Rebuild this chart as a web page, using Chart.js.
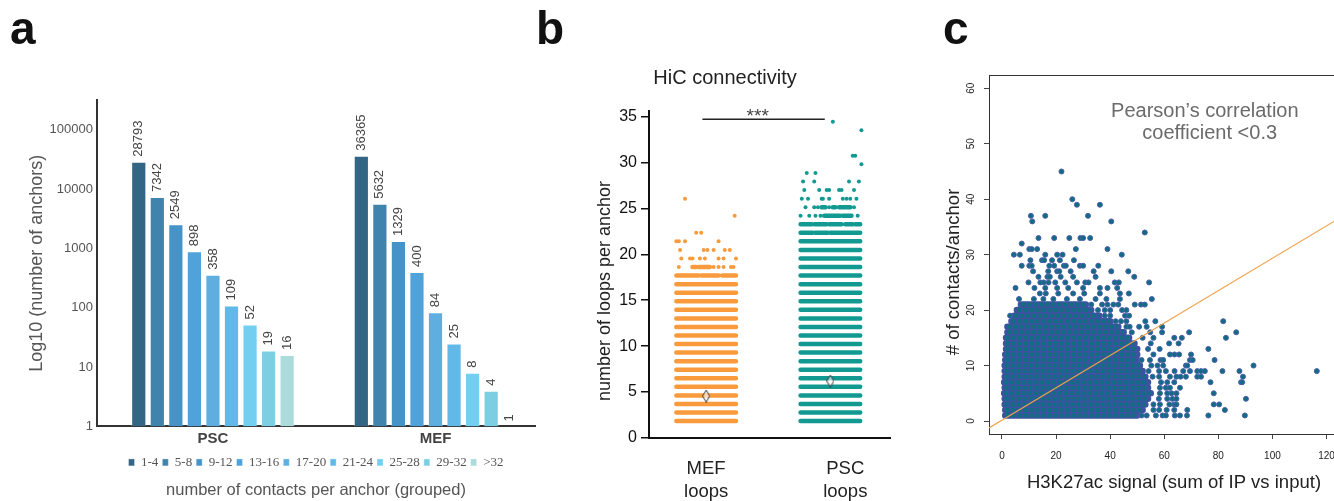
<!DOCTYPE html>
<html>
<head>
<meta charset="utf-8">
<script src="https://cdn.jsdelivr.net/npm/chart.js@4.4.1/dist/chart.umd.min.js"></script>
<style>
  html, body { margin: 0; padding: 0; background: #fff; overflow: hidden; }
  body { width: 1334px; height: 501px; position: relative; }
  canvas { position: absolute; top: 0; }
  .tag { position: absolute; font: bold 46px 'Liberation Sans', Arial, sans-serif; line-height: 46px; color: #111; }
</style>
</head>
<body>
<canvas id="chartA" width="632" height="501" style="left:0"></canvas>
<canvas id="chartB" width="370" height="501" style="left:560px"></canvas>
<canvas id="chartC" width="460" height="501" style="left:930px"></canvas>
<div class="tag" style="left:10px;top:5px">a</div>
<div class="tag" style="left:536px;top:5px">b</div>
<div class="tag" style="left:943px;top:5px">c</div>
<script>
// ---- panel a: anchors per contact bin ----
const groups = ['PSC', 'MEF'];
const binLabels = ['1-4', '5-8', '9-12', '13-16', '17-20', '21-24', '25-28', '29-32', '>32'];
const pscCounts = [28793, 7342, 2549, 898, 358, 109, 52, 19, 16];
const mefCounts = [36365, 5632, 1329, 400, 84, 25, 8, 4, 1];
const logTicks = [1, 10, 100, 1000, 10000, 100000];
const binColors = ['#336684', '#4083ad', '#4693c8', '#4fa3da', '#5eafe0', '#62b9e8', '#72cff2', '#7ccfe3', '#abdcdb'];

// ---- panel b: loops per anchor (rows of stacked dots) ----
const loopCats = [['MEF', 'loops'], ['PSC', 'loops']];
const loopTicks = [0, 5, 10, 15, 20, 25, 30, 35];
const mefBands = [1.84, 2.77, 3.70, 4.63, 5.57, 6.50, 7.43, 8.36, 9.30, 10.23, 11.16, 12.09, 13.02, 13.95, 14.89, 15.82, 16.75];
const pscBands = [1.84, 2.77, 3.70, 4.63, 5.57, 6.50, 7.43, 8.36, 9.30, 10.23, 11.16, 12.09, 13.02, 13.95, 14.89, 15.82, 16.75, 17.68, 18.61, 19.54, 20.47, 21.41];
// [row, from, to]
const mefSegs = [[17.68, 0.76, 0.94], [17.68, 0.96, 1.10], [17.68, 1.13, 1.24], [18.61, 0.89, 0.92], [18.61, 0.94, 1.03]];
const pscSegs = [[22.34, 1.76, 1.86], [22.34, 1.88, 1.98], [22.34, 2.00, 2.24],
  [23.27, 1.76, 1.85], [23.27, 1.87, 1.97], [23.27, 1.99, 2.09], [23.27, 2.12, 2.18], [23.27, 2.20, 2.24],
  [24.2, 1.95, 2.08], [24.2, 2.10, 2.17], [25.13, 1.93, 1.96], [25.13, 2.02, 2.04], [25.13, 2.07, 2.16]];
const mefDots = [[0.78, 18.61], [1.06, 18.61], [1.10, 18.61], [1.14, 18.61], [1.20, 18.61], [1.22, 18.61],
  [0.80, 19.54], [0.87, 19.54], [0.89, 19.54], [0.95, 19.54], [0.99, 19.54], [1.10, 19.54], [1.14, 19.54], [1.24, 19.54],
  [0.79, 20.47], [0.98, 20.47], [1.01, 20.47], [1.06, 20.47], [1.15, 20.47], [1.19, 20.47],
  [0.76, 21.41], [0.78, 21.41], [0.83, 21.41], [1.10, 21.41], [0.92, 22.34], [0.96, 22.34], [1.23, 24.2], [0.83, 26.06]];
const pscDots = [[1.76, 24.2], [1.83, 24.2], [1.88, 24.2], [1.92, 24.2], [2.22, 24.2],
  [1.80, 25.13], [1.87, 25.13], [1.90, 25.13], [1.99, 25.13], [2.19, 25.13],
  [1.77, 26.06], [1.82, 26.06], [1.93, 26.06], [1.94, 26.06], [1.99, 26.06], [2.10, 26.06], [2.13, 26.06], [2.16, 26.06], [2.21, 26.06],
  [1.79, 26.99], [1.91, 26.99], [1.97, 26.99], [1.99, 26.99], [2.07, 26.99], [2.09, 26.99], [2.19, 26.99],
  [1.78, 27.93], [1.87, 27.93], [2.15, 27.93], [2.23, 27.93], [1.81, 28.86], [1.88, 28.86],
  [2.25, 29.79], [2.18, 30.72], [2.20, 30.72], [2.25, 33.51], [2.02, 34.44]];
const meanLoops = [4.57, 6.2];
const sigBar = [[0.97, 34.7], [1.955, 34.7]];

// ---- panel c: H3K27ac signal vs contacts ----
const signalTicks = [0, 20, 40, 60, 80, 100, 120];
const contactTicks = [0, 10, 20, 30, 40, 50, 60];
// dense core, one row per contact count: [contacts, signal from, signal to]
const coreRows = [[1, 1.2, 50], [2, 1.2, 52], [3, 1, 53], [4, 1, 54], [5, 0.8, 55], [6, 1, 54], [7, 0.8, 54],
  [8, 1, 53], [9, 1, 52], [10, 1, 51], [11, 1.2, 50], [12, 1.2, 50], [13, 1.5, 50], [14, 1.5, 49], [15, 1.5, 47],
  [16, 2, 45], [17, 2, 43], [18, 3.5, 40], [19, 4.5, 36], [20, 5.5, 33], [21, 7, 31]];
const sparse = [[22, 45], [26, 40], [27.7, 39], [36.2, 39], [10.7, 37], [16, 37], [31.8, 37], [11.2, 36], [40.4, 36], [52.8, 34],
  [13.5, 33], [19.3, 33], [24.9, 33], [29, 33], [30, 33], [32.6, 33], [7.3, 32],
  [10.1, 31], [11, 31], [13, 31], [27.3, 31], [39, 31],
  [4.4, 30], [6.6, 30], [16, 30], [20.4, 30], [22.4, 30], [44.3, 30],
  [10.5, 29], [14.8, 29], [15.6, 29], [18.5, 29], [21.4, 29], [26.6, 29],
  [7.3, 28], [10.1, 28], [11, 28], [17.5, 28], [19.3, 28], [22.9, 28], [23.6, 28], [28.8, 28], [30, 28], [35.6, 28],
  [11.5, 27], [17.1, 27], [20.4, 27], [21.2, 27], [25.4, 27], [33.9, 27], [40.4, 27], [46.7, 27],
  [13.5, 26], [16.8, 26], [17.7, 26], [21.7, 26], [26.3, 26], [34.6, 26], [48.9, 26],
  [9.8, 25], [14.2, 25], [15.4, 25], [17.2, 25], [19.7, 25], [23.4, 25], [27.7, 25], [30.8, 25], [32, 25], [41.7, 25], [43.2, 25], [54.4, 25],
  [5, 24], [12, 24], [16, 24], [20.4, 24], [24.5, 24], [30, 24], [36.2, 24], [39, 24], [42.6, 24],
  [14, 23], [16.2, 23], [20.8, 23], [26.3, 23], [30.4, 23], [36.2, 23], [43.6, 23], [46.9, 23],
  [6.3, 22], [11.8, 22], [15.3, 22], [19, 22], [24, 22], [28.8, 22], [34.6, 22], [38.6, 22], [43.6, 22], [55.4, 22],
  [33, 21], [37, 21], [39, 21], [41.2, 21], [43, 21], [49.1, 21], [51.4, 21], [52.8, 21],
  [35.5, 20], [38, 20], [40, 20], [44.4, 20], [46, 20],
  [3, 19], [38, 19], [40, 19], [45.5, 19], [47, 19],
  [42, 18], [44, 18], [46, 18], [53, 18], [56.7, 18], [81.8, 18],
  [46, 17], [47.2, 17], [50.7, 17], [53.5, 17], [59.2, 17],
  [48, 16], [54.8, 16], [59.2, 16], [69.2, 16], [86.6, 16],
  [52, 15], [56, 15], [63.7, 15], [66.5, 15], [82.8, 15],
  [55, 14], [61.8, 14], [65.3, 14], [54, 13], [58.3, 13], [76.3, 13],
  [56, 12], [62.1, 12], [63.8, 12], [65.5, 12], [69.9, 12],
  [51.6, 11], [54.7, 11], [58.6, 11], [59.6, 11], [69.5, 11], [70.5, 11], [78.6, 11],
  [55.2, 10], [57.5, 10], [59.6, 10], [68, 10], [68.5, 10], [93, 10],
  [54.2, 9], [58.1, 9], [60.6, 9], [63.8, 9], [67, 9], [69.5, 9], [72.2, 9], [73.6, 9], [75, 9], [81.5, 9], [87.8, 9], [116.4, 9],
  [55.7, 8], [58.1, 8], [62.1, 8], [64.5, 8], [66, 8], [68, 8], [72.2, 8], [73.6, 8], [89.1, 8],
  [58.8, 7], [61.1, 7], [63.7, 7], [77.1, 7], [88.4, 7], [88.8, 7],
  [58.4, 6], [60.6, 6], [62.1, 6], [65.8, 6],
  [58.4, 5], [61.1, 5], [62.7, 5], [64.5, 5], [78.3, 5],
  [58, 4], [61.1, 4], [63, 4], [64.5, 4], [90.2, 4],
  [56, 3], [58.4, 3], [61.9, 3], [63.7, 3], [64.5, 3], [78.3, 3], [80.3, 3],
  [56, 2], [58.1, 2], [60.9, 2], [63.7, 2], [68.5, 2], [82.4, 2],
  [51.6, 1], [53.5, 1], [56.9, 1], [59.4, 1], [60.6, 1], [63.9, 1], [65.8, 1], [68.4, 1], [76.3, 1], [89.8, 1]];
const fitLine = [[-4.8, -1.25], [132, 38.7]];

Chart.defaults.font.family = "'Liberation Sans', Arial, sans-serif";
Chart.defaults.animation = false;
Chart.defaults.responsive = false;
Chart.defaults.events = [];
Chart.defaults.plugins.tooltip.enabled = false;

const fixedTicks = vals => scale => { scale.ticks = vals.map(v => ({value: v})); };
const pts = arr => arr.map(([x, y]) => ({x, y}));

// horizontal runs broken by null points
function runs(rows) {
  const out = [];
  rows.forEach(([y, a, b]) => { out.push({x: a, y}, {x: b, y}, {x: b, y: null}); });
  return out;
}

function textPlugin(items) {
  return {
    id: 'freeText',
    afterDraw(chart) {
      const c = chart.ctx;
      items.forEach(t => {
        let x = t.x, y = t.y;
        if (t.data) { x = chart.scales.x.getPixelForValue(t.x); y = chart.scales.y.getPixelForValue(t.y); }
        c.save();
        c.font = t.font;
        c.fillStyle = t.color;
        c.textAlign = 'center';
        c.textBaseline = 'middle';
        c.translate(x, y);
        if (t.rot) c.rotate(t.rot);
        c.fillText(t.text, 0, 0);
        c.restore();
      });
    }
  };
}

const barValues = {
  id: 'barValues',
  afterDatasetsDraw(chart) {
    const c = chart.ctx;
    c.save();
    c.font = "13px 'Liberation Sans', Arial, sans-serif";
    c.fillStyle = '#444';
    c.textAlign = 'left';
    c.textBaseline = 'middle';
    chart.data.datasets.forEach((ds, i) => {
      chart.getDatasetMeta(i).data.forEach((bar, j) => {
        c.save();
        c.translate(bar.x, bar.y - 5);
        c.rotate(-Math.PI / 2);
        c.fillText(String(ds.data[j].y), 0, 0);
        c.restore();
      });
    });
    c.restore();
  }
};

const topFrame = {
  id: 'topFrame',
  afterDraw(chart) {
    const {ctx, chartArea} = chart;
    ctx.save();
    ctx.strokeStyle = '#333';
    ctx.lineWidth = 1;
    ctx.beginPath();
    ctx.moveTo(chartArea.left, chartArea.top + 0.5);
    ctx.lineTo(chartArea.right, chartArea.top + 0.5);
    ctx.stroke();
    ctx.restore();
  }
};

// ---------- a ----------
new Chart(document.getElementById('chartA'), {
  type: 'bar',
  data: {
    datasets: binLabels.map((lab, i) => ({
      label: lab,
      data: [{x: 0, y: pscCounts[i]}, {x: 1, y: mefCounts[i]}],
      backgroundColor: binColors[i],
      borderColor: 'rgba(255,255,255,0.35)',
      borderWidth: 1,
      categoryPercentage: 0.75,
      barPercentage: 0.82
    }))
  },
  options: {
    layout: {padding: {top: 100, right: 97, left: 0, bottom: 0}},
    scales: {
      x: {
        type: 'linear', min: -0.521, max: 1.447, offset: false,
        afterBuildTicks: fixedTicks([0, 1]),
        afterFit: s => { s.height = 25.5; },
        ticks: {callback: v => groups[v], font: {size: 15, weight: 'bold'}, color: '#444', padding: 3},
        grid: {display: false, drawTicks: false, offset: false},
        border: {color: '#333', width: 2}
      },
      y: {
        type: 'logarithmic', min: 1, max: 316228,
        afterBuildTicks: fixedTicks(logTicks),
        afterFit: s => { s.width = 97; },
        ticks: {callback: v => String(v), font: {size: 13}, color: '#555', padding: 4},
        grid: {display: false, drawTicks: false},
        border: {color: '#333', width: 2},
        title: {display: true, text: 'Log10 (number of anchors)', font: {size: 18}, color: '#555', padding: {top: 26}}
      }
    },
    plugins: {
      legend: {
        position: 'bottom', fullSize: false,
        labels: {font: {family: "'Liberation Serif', serif", size: 13}, color: '#555', boxWidth: 6, boxHeight: 7, padding: 4}
      },
      title: {
        display: true, position: 'bottom', fullSize: false, text: 'number of contacts per anchor (grouped)',
        font: {size: 16.5, weight: 'normal'}, color: '#555', padding: {top: 1.3, bottom: 1}
      }
    }
  },
  plugins: [barValues]
});

// ---------- b ----------
function diamond() {
  const cv = document.createElement('canvas');
  cv.width = 8; cv.height = 13;
  const g = cv.getContext('2d');
  g.fillStyle = 'rgba(255,255,255,0.6)';
  g.strokeStyle = '#333';
  g.lineWidth = 1;
  g.beginPath();
  g.moveTo(4, 0.5); g.lineTo(7.5, 6.5); g.lineTo(4, 12.5); g.lineTo(0.5, 6.5); g.closePath();
  g.fill(); g.stroke();
  return cv;
}
const orange = '#f99b3d';
const teal = '#129a92';

new Chart(document.getElementById('chartB'), {
  type: 'scatter',
  data: {
    datasets: [
      {data: pts(sigBar), showLine: true, borderColor: '#222', borderWidth: 1.3, pointRadius: 0},
      {data: [{x: 1, y: meanLoops[0]}, {x: 2, y: meanLoops[1]}], pointStyle: diamond(), pointRadius: 5},
      {data: pts(mefDots), pointRadius: 2, backgroundColor: orange, borderWidth: 0},
      {data: pts(pscDots), pointRadius: 2, backgroundColor: teal, borderWidth: 0},
      {data: runs(mefBands.map(y => [y, 0.76, 1.24]).concat(mefSegs)), showLine: true, spanGaps: false,
        borderColor: orange, borderWidth: 4.5, borderCapStyle: 'round', pointRadius: 0},
      {data: runs(pscBands.map(y => [y, 1.76, 2.24]).concat(pscSegs)), showLine: true, spanGaps: false,
        borderColor: teal, borderWidth: 4.5, borderCapStyle: 'round', pointRadius: 0}
    ]
  },
  options: {
    layout: {padding: {top: 0, right: 40, left: 0, bottom: 0}},
    scales: {
      x: {
        type: 'linear', min: 0.54, max: 2.48,
        afterBuildTicks: fixedTicks([1, 2.12]),
        afterFit: s => { s.height = 63; },
        ticks: {callback: v => loopCats[v < 1.5 ? 0 : 1], font: {size: 18.5, lineHeight: 1.25}, color: '#222', padding: 19},
        grid: {display: false, drawTicks: false},
        border: {color: '#111', width: 2}
      },
      y: {
        min: 0, max: 35.6,
        afterBuildTicks: fixedTicks(loopTicks),
        afterFit: s => { s.width = 89; },
        ticks: {font: {size: 16}, color: '#111', padding: 4},
        grid: {drawOnChartArea: false, drawTicks: true, tickLength: 8, color: '#111', lineWidth: 1.5},
        border: {color: '#111', width: 2}
      }
    },
    plugins: {
      legend: {display: false},
      title: {display: true, text: 'HiC connectivity', font: {size: 20, weight: 'normal'}, color: '#222', padding: {top: 66, bottom: 21}}
    }
  },
  plugins: [textPlugin([
    {text: 'number of loops per anchor', x: 45, y: 291, rot: -Math.PI / 2, font: "18px 'Liberation Sans', Arial, sans-serif", color: '#222'},
    {text: '***', x: 1.415, y: 35.0, data: true, font: "19px 'Liberation Sans', Arial, sans-serif", color: '#444'}
  ])]
});

// ---------- c ----------
new Chart(document.getElementById('chartC'), {
  type: 'scatter',
  data: {
    datasets: [
      {data: pts(fitLine), showLine: true, borderColor: '#f0a04b', borderWidth: 1.2, pointRadius: 0},
      {data: pts(sparse), pointRadius: 2.5, backgroundColor: '#0e6d80', borderColor: '#4b5eab', borderWidth: 1},
      {data: runs(coreRows), showLine: true, spanGaps: false,
        borderColor: '#0f6f80', borderWidth: 4, borderDash: [4, 2], pointRadius: 0},
      {data: runs(coreRows), showLine: true, spanGaps: false,
        borderColor: '#3d52a1', borderWidth: 6.5, borderCapStyle: 'round', pointRadius: 0}
    ]
  },
  options: {
    layout: {padding: {top: 75, right: 31, left: 0, bottom: 0}},
    scales: {
      x: {
        type: 'linear', min: -4.8, max: 132,
        afterBuildTicks: fixedTicks(signalTicks),
        afterFit: s => { s.height = 67; },
        ticks: {font: {size: 10}, color: '#222', padding: 11},
        grid: {drawOnChartArea: false, drawTicks: true, tickLength: 5, color: '#444'},
        border: {color: '#333', width: 1},
        title: {display: true, text: 'H3K27ac signal (sum of IP vs input)', font: {size: 18.5}, color: '#222', padding: {bottom: 7}}
      },
      y: {
        min: -2.34, max: 62.4,
        afterBuildTicks: fixedTicks(contactTicks),
        afterFit: s => { s.width = 59; },
        ticks: {font: {size: 10}, color: '#222', padding: 7, minRotation: 90, maxRotation: 90, crossAlign: 'center'},
        grid: {drawOnChartArea: false, drawTicks: true, tickLength: 5, color: '#444'},
        border: {color: '#333', width: 1}
      }
    },
    plugins: {legend: {display: false}}
  },
  plugins: [topFrame, textPlugin([
    {text: '# of contacts/anchor', x: 24, y: 272, rot: -Math.PI / 2, font: "18.5px 'Liberation Sans', Arial, sans-serif", color: '#222'},
    {text: 'Pearson\u2019s correlation', x: 75, y: 55.9, data: true, font: "20px 'Liberation Sans', Arial, sans-serif", color: '#6b6b6b'},
    {text: 'coefficient <0.3', x: 76.8, y: 51.8, data: true, font: "20px 'Liberation Sans', Arial, sans-serif", color: '#6b6b6b'}
  ])]
});
</script>
</body>
</html>
